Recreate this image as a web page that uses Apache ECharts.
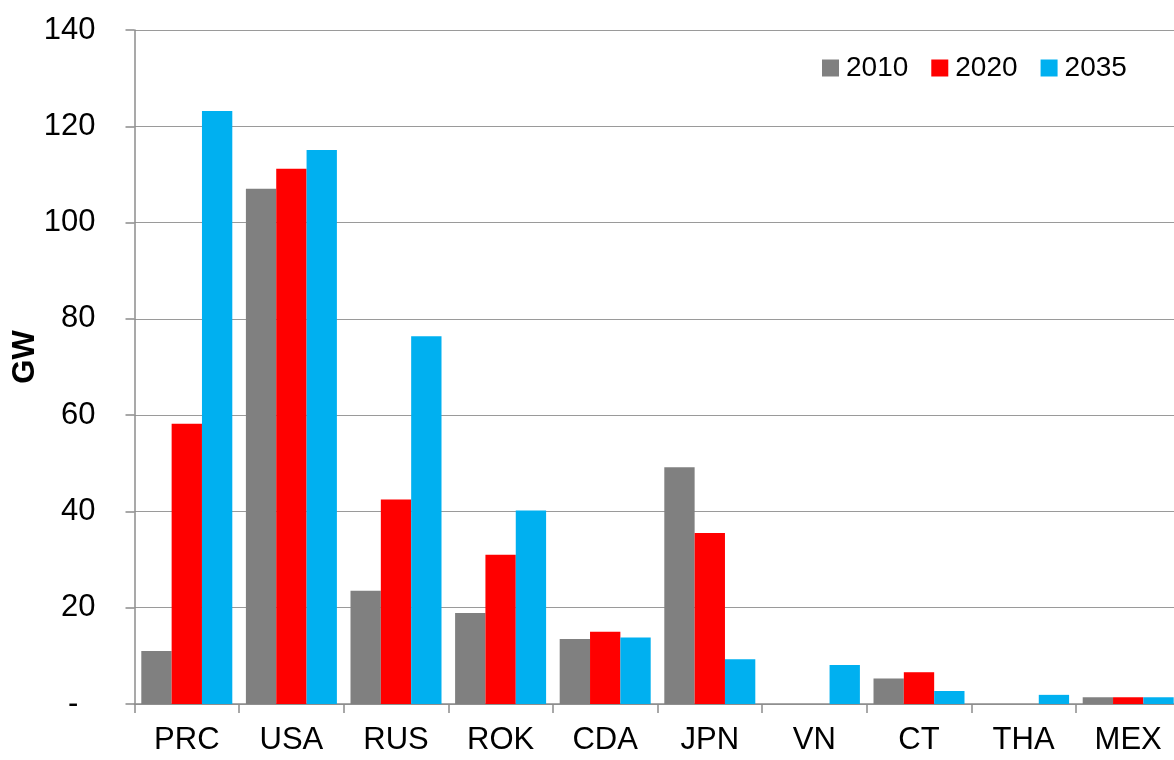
<!DOCTYPE html>
<html>
<head>
<meta charset="utf-8">
<script src="https://cdn.jsdelivr.net/npm/echarts@6/dist/echarts.min.js"></script>
<style>
  html, body { margin: 0; padding: 0; background: #fff; }
  #chart { width: 1174px; height: 760px; }
</style>
</head>
<body>
<div id="chart"></div>
<script>
// Data (GW)
const countries = ['PRC', 'USA', 'RUS', 'ROK', 'CDA', 'JPN', 'VN', 'CT', 'THA', 'MEX'];
const values2010 = [11.0, 107.0, 23.5, 18.9, 13.5, 49.2, 0, 5.3, 0, 1.4];
const values2020 = [58.2, 111.2, 42.5, 31.0, 15.0, 35.5, 0, 6.6, 0, 1.4];
const values2035 = [123.2, 115.1, 76.4, 40.2, 13.8, 9.3, 8.1, 2.7, 1.9, 1.4];
const yTicks = [0, 20, 40, 60, 80, 100, 120, 140];

const fontFamily = '"Liberation Sans", Arial, sans-serif';
const axisGrey = '#8c8c8c';

const chart = echarts.init(document.getElementById('chart'));

const makeSeries = (name, data, color) => ({
  name: name,
  type: 'bar',
  data: data,
  barGap: '0%',
  barCategoryGap: '13%',
  itemStyle: { color: color },
});

chart.setOption({
  animation: false,
  textStyle: { fontFamily: fontFamily },
  grid: {
    left: 134.5,
    top: 30,
    width: 1046,
    bottom: 56,
    containLabel: false,
    outerBoundsMode: 'none',
  },
  legend: {
    data: ['2010', '2020', '2035'],
    left: 822,
    top: 54,
    padding: 0,
    icon: 'rect',
    itemWidth: 17,
    itemHeight: 17,
    itemGap: 23,
    textStyle: {
      fontSize: 28,
      color: '#000',
      padding: [0, 0, 0, 2],
      fontFamily: fontFamily,
    },
  },
  xAxis: {
    type: 'category',
    data: countries,
    boundaryGap: true,
    axisLine: { lineStyle: { color: axisGrey, width: 1.5 } },
    axisTick: {
      show: true,
      inside: false,
      length: 9,
      alignWithLabel: false,
      lineStyle: { color: axisGrey, width: 1.5 },
    },
    axisLabel: {
      fontSize: 31,
      color: '#000',
      margin: 21,
      interval: 0,
      fontFamily: fontFamily,
    },
    splitLine: { show: false },
  },
  yAxis: {
    type: 'value',
    min: yTicks[0],
    max: yTicks[yTicks.length - 1],
    interval: 20,
    axisLine: { show: true, lineStyle: { color: axisGrey, width: 1.5 } },
    axisTick: {
      show: true,
      inside: false,
      length: 9,
      lineStyle: { color: axisGrey, width: 1.5 },
    },
    axisLabel: {
      fontSize: 31,
      color: '#000',
      margin: 39,
      fontFamily: fontFamily,
      formatter: (v) => (v === 0 ? '-  ' : String(v)),
    },
    splitLine: {
      show: true,
      lineStyle: { color: '#9a9a9a', width: 1.2 },
    },
  },
  graphic: [
    {
      type: 'text',
      x: 25,
      y: 357,
      rotation: Math.PI / 2,
      style: {
        text: 'GW',
        font: 'bold 31px ' + fontFamily,
        fill: '#000',
        textAlign: 'center',
        textVerticalAlign: 'middle',
      },
    },
  ],
  series: [
    makeSeries('2010', values2010, '#808080'),
    makeSeries('2020', values2020, '#ff0000'),
    makeSeries('2035', values2035, '#00b0f0'),
  ],
});
</script>
</body>
</html>
